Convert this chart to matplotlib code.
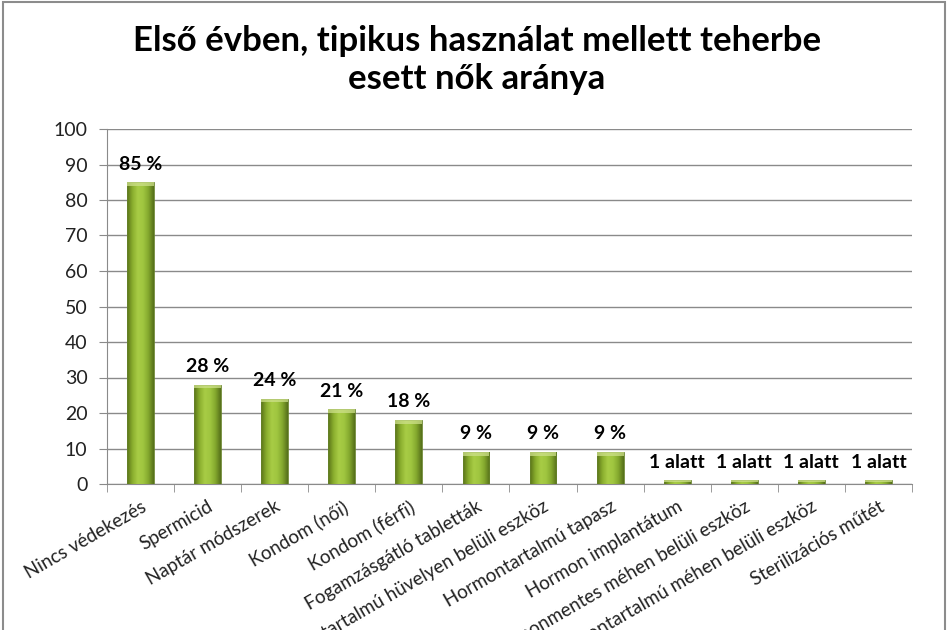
import matplotlib
matplotlib.use("Agg")
import matplotlib.pyplot as plt
import numpy as np
from matplotlib.colors import LinearSegmentedColormap
from matplotlib.patches import Rectangle

plt.rcParams['font.family'] = ['Lato', 'DejaVu Sans']

categories = ["Nincs védekezés", "Spermicid", "Naptár módszerek", "Kondom (női)",
              "Kondom (férfi)", "Fogamzásgátló tabletták",
              "Hormontartalmú hüvelyen belüli eszköz", "Hormontartalmú tapasz",
              "Hormon implantátum", "Hormonmentes méhen belüli eszköz",
              "Hormontartalmú méhen belüli eszköz", "Sterilizációs műtét"]
values = [85, 28, 24, 21, 18, 9, 9, 9, 1, 1, 1, 1]
labels = ["85 %", "28 %", "24 %", "21 %", "18 %", "9 %", "9 %", "9 %",
          "1 alatt", "1 alatt", "1 alatt", "1 alatt"]
yticks = [0, 10, 20, 30, 40, 50, 60, 70, 80, 90, 100]
title = "Első évben, tipikus használat mellett teherbe\nesett nők aránya"

fig = plt.figure(figsize=(9.51, 6.3), dpi=100)
fig.patch.set_facecolor('white')
fig.patches.append(Rectangle((3/951, -0.1), 942/951, 1.097, transform=fig.transFigure,
                             fill=False, edgecolor='#8c8c8c', linewidth=1.5))
ax = fig.add_axes([107/951, 1-484/630, (912-107)/951, (484-129)/630])

x = np.arange(len(categories))
bars = ax.bar(x, values, width=0.4, color='none', edgecolor='none', zorder=3)

cmap = LinearSegmentedColormap.from_list('g', ['#5a7418', '#8aae2e', '#a8cc45',
                                               '#a0c640', '#84a82e', '#56701a'])
grad = np.linspace(0, 1, 64).reshape(1, -1)
for b in bars:
    bx, bw, bh = b.get_x(), b.get_width(), b.get_height()
    im = ax.imshow(grad, extent=(bx, bx + bw, 0, bh), aspect='auto', cmap=cmap,
                   zorder=3, interpolation='bilinear')
    im.set_clip_path(b)
    ax.add_patch(Rectangle((bx, 0), bw, bh, fill=False, edgecolor='#66822a',
                           linewidth=0.6, zorder=4))
    ax.add_patch(Rectangle((bx, bh - min(1.0, bh*0.4)), bw, min(1.0, bh*0.4),
                           facecolor='#cde08a', edgecolor='none', alpha=0.75, zorder=4))

for xi, v, lab in zip(x, values, labels):
    ax.annotate(lab, (xi, v), xytext=(0, 7), textcoords='offset points',
                ha='center', va='bottom', fontsize=14, fontweight='bold', color='black')

ax.set_xlim(-0.5, len(categories) - 0.5)
ax.set_ylim(0, 100)
ax.set_yticks(yticks)
ax.set_yticklabels([str(t) for t in yticks], fontsize=14, color='#222222')
ax.yaxis.grid(True, color='#8a8a8a', linewidth=1)
ax.set_axisbelow(True)
ax.tick_params(axis='y', direction='out', length=6, color='#8a8a8a', pad=8)

ax.set_xticks(x)
ax.set_xticklabels(categories, rotation=30, ha='right', rotation_mode='anchor',
                   fontsize=13.5, color='#222222')
ax.tick_params(axis='x', which='major', length=0, pad=10)
ax.set_xticks(np.arange(-0.5, len(categories)), minor=True)
ax.tick_params(axis='x', which='minor', direction='out', length=6, color='#8a8a8a')

for s in ['top', 'right']:
    ax.spines[s].set_visible(False)
for s in ['left', 'bottom']:
    ax.spines[s].set_color('#8a8a8a')

fig.text(477/951, 1 - 60/630, title, ha='center', va='center', fontsize=25,
         fontweight='bold', linespacing=1.2)

fig.savefig('out.png', dpi=100)
